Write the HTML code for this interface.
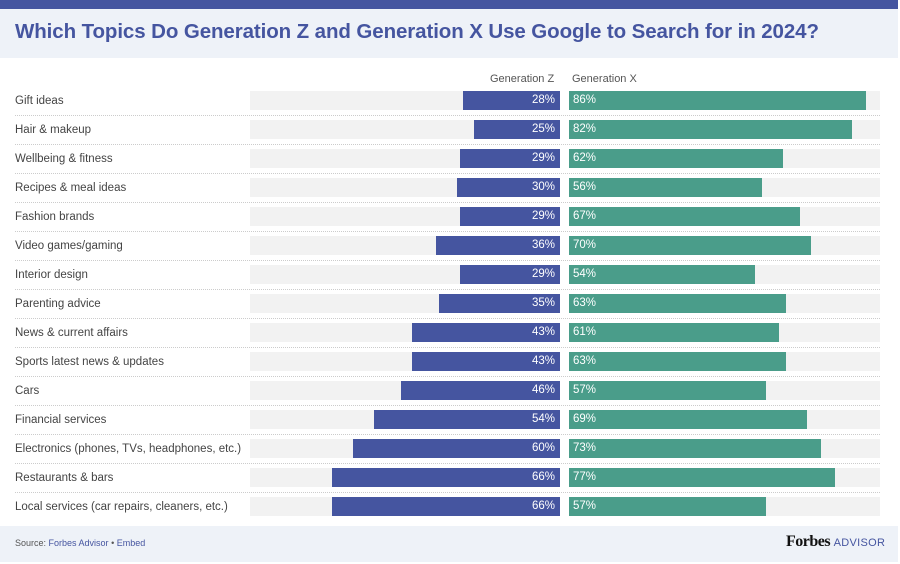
<!DOCTYPE html>
<html><head><style>
body{margin:0;width:900px;height:564px;background:#fff;font-family:"Liberation Sans",sans-serif;position:relative;overflow:hidden}
.top{position:absolute;left:0;top:0;width:898px;height:9px;background:#4555a0}
.tb{position:absolute;left:0;top:9px;width:898px;height:49px;background:#eef2f8}
.title{position:absolute;left:15px;top:20px;font-size:20.5px;font-weight:bold;color:#4555a0;letter-spacing:-0.1px}
.foot{position:absolute;left:0;top:526px;width:898px;height:36px;background:#eef2f8}
.lab{position:absolute;left:15px;font-size:11.5px;color:#444}
.trk{position:absolute;height:19px;background:#f2f2f2}
.z{position:absolute;height:19px;background:#4555a0;color:#fff;font-size:11.5px;text-align:right;line-height:19px;box-sizing:border-box;padding-right:5px}
.x{position:absolute;height:19px;background:#4a9d8a;color:#fff;font-size:11.5px;line-height:19px;padding-left:4px;box-sizing:border-box}
.sep{position:absolute;left:15px;width:865px;border-top:1px dotted #ccc}
.hd{position:absolute;top:73px;font-size:11px;color:#555}
</style></head><body>
<div class="top"></div><div class="tb"></div>
<div class="title">Which Topics Do Generation Z and Generation X Use Google to Search for in 2024?</div>
<div class="hd" style="left:490px">Generation Z</div>
<div class="hd" style="left:572px">Generation X</div>
<div id="rows"></div>
<div class="foot"></div>
<div style="position:absolute;left:15px;top:538px;font-size:9px;color:#555">Source: <span style="color:#4555a0">Forbes Advisor</span> • <span style="color:#4555a0">Embed</span></div>
<div style="position:absolute;left:786px;top:533px;font-family:'Liberation Serif',serif;font-weight:bold;font-size:16px;color:#111;letter-spacing:-0.5px">Forbes <span style="font-family:'Liberation Sans',sans-serif;font-weight:normal;font-size:11px;color:#4555a0;letter-spacing:0.3px">ADVISOR</span></div>
<script>
var d=[["Gift ideas",28,86],["Hair & makeup",25,82],["Wellbeing & fitness",29,62],["Recipes & meal ideas",30,56],["Fashion brands",29,67],["Video games/gaming",36,70],["Interior design",29,54],["Parenting advice",35,63],["News & current affairs",43,61],["Sports latest news & updates",43,63],["Cars",46,57],["Financial services",54,69],["Electronics (phones, TVs, headphones, etc.)",60,73],["Restaurants & bars",66,77],["Local services (car repairs, cleaners, etc.)",66,57]];
var h="";d.forEach(function(r,i){var t=91+29*i;var s=3.45;
h+='<div class="lab" style="top:'+(t+4)+'px">'+r[0].replace("&","&amp;")+'</div>';
h+='<div class="trk" style="left:250px;width:310px;top:'+t+'px"></div><div class="trk" style="left:569px;width:311px;top:'+t+'px"></div>';
h+='<div class="z" style="top:'+t+'px;left:'+(560-r[1]*s)+'px;width:'+(r[1]*s)+'px">'+r[1]+'%</div>';
h+='<div class="x" style="top:'+t+'px;left:569px;width:'+(r[2]*s)+'px">'+r[2]+'%</div>';
if(i<14)h+='<div class="sep" style="top:'+(t+24)+'px"></div>';});
document.getElementById("rows").innerHTML=h;
</script>
</body></html>
